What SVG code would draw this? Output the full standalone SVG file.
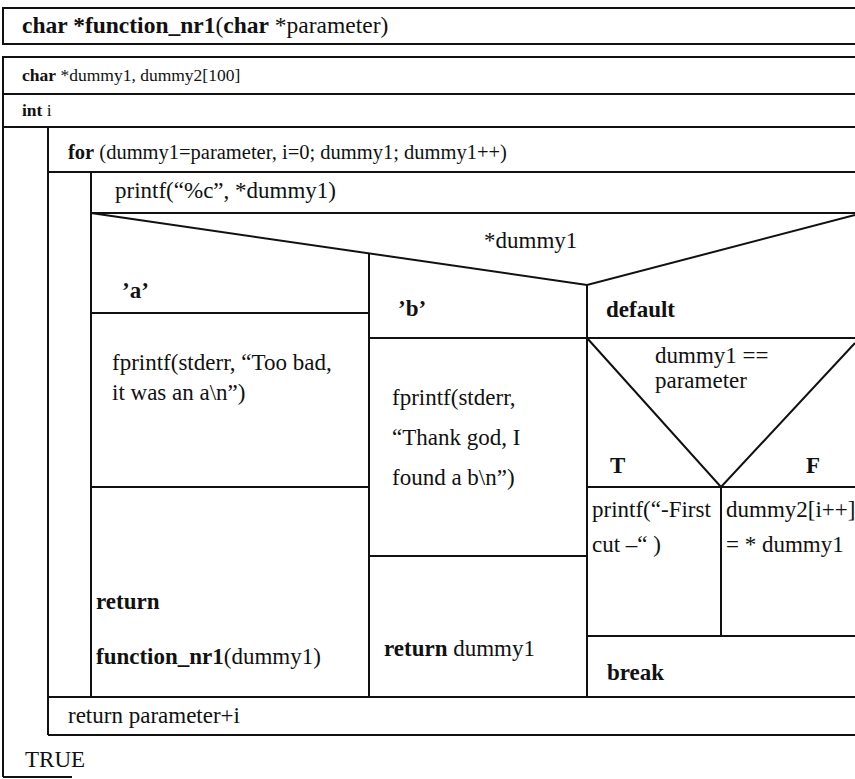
<svg xmlns="http://www.w3.org/2000/svg" width="855" height="779" viewBox="0 0 855 779">
<style>
  .ln { stroke: #111; stroke-width: 2; fill: none; }
  .t { font-family: "Liberation Serif", "Times New Roman", serif; font-size: 23px; fill: #111; }
  .h { font-size: 23.5px; }
  .d { font-size: 17.5px; }
  .f { font-size: 20.5px; }
  .b { font-weight: bold; }
</style>
<rect width="855" height="779" fill="#fff"/>
<g id="connectors">
  <rect class="ln" x="3" y="8" width="900" height="36"/>
  <polyline class="ln" points="900,57 3,57 3,777"/>
  <line class="ln" x1="3" y1="777" x2="72" y2="777" stroke="#888"/>
  <line class="ln" x1="3" y1="94" x2="855" y2="94"/>
  <line class="ln" x1="3" y1="127" x2="855" y2="127"/>
  <line class="ln" x1="48" y1="127" x2="48" y2="735"/>
  <line class="ln" x1="48" y1="172" x2="855" y2="172"/>
  <line class="ln" x1="91" y1="172" x2="91" y2="697"/>
  <line class="ln" x1="91" y1="213" x2="855" y2="213"/>
  <polyline class="ln" points="91,213 587,285 855,215"/>
  <line class="ln" x1="369" y1="253" x2="369" y2="697"/>
  <line class="ln" x1="587" y1="285" x2="587" y2="697"/>
  <line class="ln" x1="91" y1="313" x2="369" y2="313"/>
  <line class="ln" x1="369" y1="338" x2="855" y2="338"/>
  <line class="ln" x1="91" y1="487" x2="369" y2="487"/>
  <line class="ln" x1="369" y1="556" x2="587" y2="556"/>
  <polyline class="ln" points="587,338 721,487 855,343"/>
  <line class="ln" x1="587" y1="487" x2="855" y2="487"/>
  <line class="ln" x1="721" y1="487" x2="721" y2="636"/>
  <line class="ln" x1="587" y1="636" x2="855" y2="636"/>
  <line class="ln" x1="48" y1="697" x2="855" y2="697"/>
  <line class="ln" x1="48" y1="735" x2="855" y2="735"/>
</g>
<g id="header"><text class="t h" x="22" y="33"><tspan class="b">char *function_nr1</tspan>(<tspan class="b">char</tspan> *parameter)</text></g>
<g id="decl1"><text class="t d" x="22" y="81"><tspan class="b">char</tspan> *dummy1, dummy2[100]</text></g>
<g id="decl2"><text class="t d" x="22" y="116"><tspan class="b">int</tspan> i</text></g>
<g id="for"><text class="t f" x="68" y="159"><tspan class="b">for</tspan> (dummy1=parameter, i=0; dummy1; dummy1++)</text></g>
<g id="printf1"><text class="t" x="115" y="198">printf(“%c”, *dummy1)</text></g>
<g id="switch"><text class="t" x="484" y="248">*dummy1</text></g>
<g id="case-a">
  <text class="t b" x="122" y="298">’a’</text>
  <text class="t" x="112" y="370">fprintf(stderr, “Too bad,</text>
  <text class="t" x="112" y="400">it was an a\n”)</text>
  <text class="t b" x="96" y="609">return</text>
  <text class="t" x="96" y="664"><tspan class="b">function_nr1</tspan>(dummy1)</text>
</g>
<g id="case-b">
  <text class="t b" x="398" y="316">’b’</text>
  <text class="t" x="392" y="405">fprintf(stderr,</text>
  <text class="t" x="392" y="445">“Thank god, I</text>
  <text class="t" x="392" y="485">found a b\n”)</text>
  <text class="t" x="384" y="656"><tspan class="b">return</tspan> dummy1</text>
</g>
<g id="case-default">
  <text class="t b" x="606" y="317">default</text>
  <text class="t" x="655" y="363">dummy1 ==</text>
  <text class="t" x="655" y="388">parameter</text>
  <text class="t b" x="610" y="473">T</text>
  <text class="t b" x="806" y="473">F</text>
  <text class="t" x="592" y="517">printf(“-First</text>
  <text class="t" x="592" y="552">cut –“ )</text>
  <text class="t" x="726" y="517">dummy2[i++]</text>
  <text class="t" x="726" y="552">= * dummy1</text>
  <text class="t b" x="607" y="680">break</text>
</g>
<g id="return-param"><text class="t" x="68" y="723">return parameter+i</text></g>
<g id="true"><text class="t" x="25" y="767">TRUE</text></g>
</svg>
